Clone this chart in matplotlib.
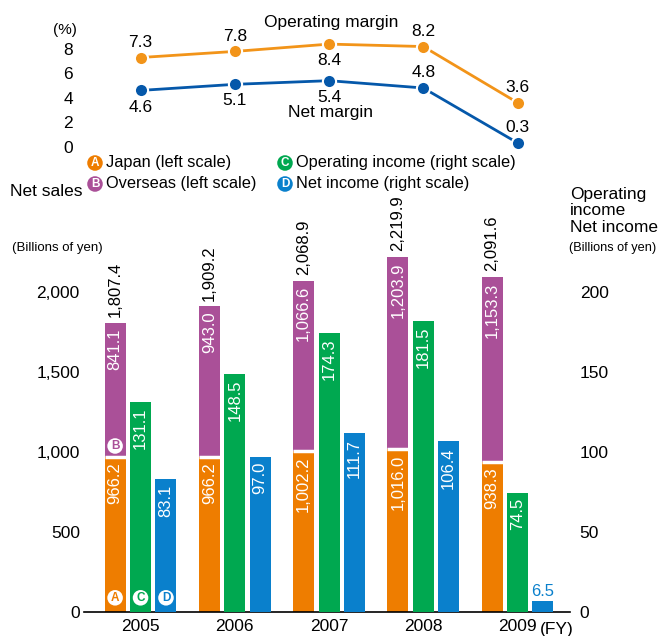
import matplotlib
matplotlib.use('Agg')
import matplotlib.pyplot as plt

plt.rcParams['font.family'] = ['Liberation Sans', 'DejaVu Sans']

years = ['2005', '2006', '2007', '2008', '2009']
japan = [966.2, 966.2, 1002.2, 1016.0, 938.3]
overseas = [841.1, 943.0, 1066.6, 1203.9, 1153.3]
net_sales = [1807.4, 1909.2, 2068.9, 2219.9, 2091.6]
op_income = [131.1, 148.5, 174.3, 181.5, 74.5]
net_income = [83.1, 97.0, 111.7, 106.4, 6.5]
op_margin = [7.3, 7.8, 8.4, 8.2, 3.6]
net_margin = [4.6, 5.1, 5.4, 4.8, 0.3]

ORANGE = '#EE7D00'
PURPLE = '#AA5098'
GREEN = '#00A850'
BLUE = '#0A80CC'
LINE_ORANGE = '#F29419'
LINE_BLUE = '#0558AA'

W, H = 663, 636
fig = plt.figure(figsize=(W / 100, H / 100), dpi=100)


def rect(x0, y0, x1, y1):
    # pixel box (top-left origin) -> figure coords
    return [x0 / W, 1 - y1 / H, (x1 - x0) / W, (y1 - y0) / H]


xs = list(range(len(years)))
off = 0.27
bw = 0.223
xlim = (-0.6, 4.557)

# ---- bar chart ----
ax = fig.add_axes(rect(84, 243.7, 570, 611.7))
ax2 = ax.twinx()
ax.set_xlim(*xlim)
ax.set_ylim(0, 2300)
ax2.set_ylim(0, 230)

xj = [x - off for x in xs]
xb = [x + off for x in xs]
ax.bar(xj, japan, bw, color=ORANGE, linewidth=0)
ax.bar(xj, overseas, bw, bottom=japan, color=PURPLE, linewidth=0)
ax.hlines(japan, [x - bw / 2 for x in xj], [x + bw / 2 for x in xj], color='white', lw=2.5)
ax2.bar(xs, op_income, bw, color=GREEN, linewidth=0)
ax2.bar(xb, net_income, bw, color=BLUE, linewidth=0)

lbl = dict(textcoords='offset points', ha='center', rotation=90, fontsize=12)
for i in xs:
    ax.annotate(f'{japan[i]:,.1f}', (xj[i], japan[i]), xytext=(0, -4), va='top', color='white', **lbl)
    ax.annotate(f'{overseas[i]:,.1f}', (xj[i], net_sales[i]), xytext=(0, -4), va='top', color='white', **lbl)
    ax.annotate(f'{net_sales[i]:,.1f}', (xj[i], net_sales[i]), xytext=(0, 4), va='bottom', color='black', **lbl)
    ax2.annotate(f'{op_income[i]:,.1f}', (xs[i], op_income[i]), xytext=(0, -4), va='top', color='white', **lbl)
    if net_income[i] > 20:
        ax2.annotate(f'{net_income[i]:,.1f}', (xb[i], net_income[i]), xytext=(0, -4), va='top', color='white', **lbl)
    else:
        ax2.annotate(f'{net_income[i]:,.1f}', (xb[i], net_income[i]), xytext=(0, 2), textcoords='offset points',
                     ha='center', va='bottom', color=BLUE, fontsize=12)

# circled letters inside first group
circ = dict(textcoords='offset points', ha='center', va='center', fontsize=8.5, fontweight='bold',
            bbox=dict(boxstyle='circle,pad=0.15', fc='white', ec='none'))
for letter, xv, col in [('A', xj[0], ORANGE), ('C', xs[0], GREEN), ('D', xb[0], BLUE)]:
    ax2.annotate(letter, (xv, 0), xytext=(0, 10), color=col, **circ)
ax2.annotate('B', (xj[0], japan[0] / 10), xytext=(0, 8), color=PURPLE, **circ)

for a in (ax, ax2):
    for s in ('top', 'left', 'right'):
        a.spines[s].set_visible(False)
ax2.spines['bottom'].set_visible(False)
ax.spines['bottom'].set_linewidth(1.2)

ax.set_yticks([0, 500, 1000, 1500, 2000])
ax.set_yticklabels([f'{v:,}' for v in [0, 500, 1000, 1500, 2000]])
ax.tick_params(axis='y', length=0, pad=3, labelsize=12.5)
ax2.set_yticks([0, 50, 100, 150, 200])
ax2.tick_params(axis='y', length=0, pad=7, labelsize=12.5)
ax.set_xticks(xs)
ax.set_xticklabels(years)
ax.tick_params(axis='x', length=0, pad=5.5, labelsize=12.5)
ax.annotate('(FY)', (xs[-1], 0), xytext=(16, -13), textcoords='offset points',
            ha='left', va='center', fontsize=12.5, annotation_clip=False)

# ---- margin lines ----
top_px, bot_px, zero_px, unit_px = 20, 150, 146.5, 12.19
axl = fig.add_axes(rect(84, top_px, 570, bot_px))
axl.set_xlim(*xlim)
axl.set_ylim(-(bot_px - zero_px) / unit_px, (zero_px - top_px) / unit_px)
axl.patch.set_visible(False)
for s in axl.spines.values():
    s.set_visible(False)
axl.set_xticks([])
axl.set_yticks([0, 2, 4, 6, 8])
axl.tick_params(axis='y', length=0, pad=8, labelsize=12.5)

mk = dict(marker='o', markersize=9.5, markeredgecolor='white', markeredgewidth=1.5, lw=2)
axl.plot(xs, op_margin, color=LINE_ORANGE, markerfacecolor=LINE_ORANGE, **mk)
axl.plot(xs, net_margin, color=LINE_BLUE, markerfacecolor=LINE_BLUE, **mk)

op_above = [True, True, False, True, True]
net_above = [False, False, False, True, True]
for i in xs:
    axl.annotate(f'{op_margin[i]:.1f}', (xs[i], op_margin[i]), xytext=(0, 11 if op_above[i] else -12),
                 textcoords='offset points', ha='center', va='center', fontsize=12.5)
    axl.annotate(f'{net_margin[i]:.1f}', (xs[i], net_margin[i]), xytext=(0, 11 if net_above[i] else -12),
                 textcoords='offset points', ha='center', va='center', fontsize=12.5)

fig.text(331 / W, 1 - 23 / H, 'Operating margin', ha='center', va='center', fontsize=12.5)
fig.text(331 / W, 1 - 113 / H, 'Net margin', ha='center', va='center', fontsize=12.5)
fig.text(65 / W, 1 - 30 / H, '(%)', ha='center', va='center', fontsize=11)

# ---- legend ----
legend = [('A', 'Japan (left scale)', ORANGE, 95, 163),
          ('B', 'Overseas (left scale)', PURPLE, 95, 184),
          ('C', 'Operating income (right scale)', GREEN, 285, 163),
          ('D', 'Net income (right scale)', BLUE, 285, 184)]
for letter, text, col, lx, ly in legend:
    fig.text(lx / W, 1 - ly / H, letter, ha='center', va='center', color='white', fontsize=8.5,
             fontweight='bold', bbox=dict(boxstyle='circle,pad=0.15', fc=col, ec='none'))
    fig.text((lx + 11) / W, 1 - ly / H, text, ha='left', va='center', fontsize=11.8)

fig.text(10 / W, 1 - 191 / H, 'Net sales', ha='left', va='center', fontsize=12.5)
fig.text(12 / W, 1 - 248 / H, '(Billions of yen)', ha='left', va='center', fontsize=9.5)
for j, line in enumerate(['Operating', 'income', 'Net income']):
    fig.text(570 / W, 1 - (194 + 16.5 * j) / H, line, ha='left', va='center', fontsize=12.5)
fig.text(569 / W, 1 - 248 / H, '(Billions of yen)', ha='left', va='center', fontsize=9.2)

fig.savefig('out.png', dpi=100)
